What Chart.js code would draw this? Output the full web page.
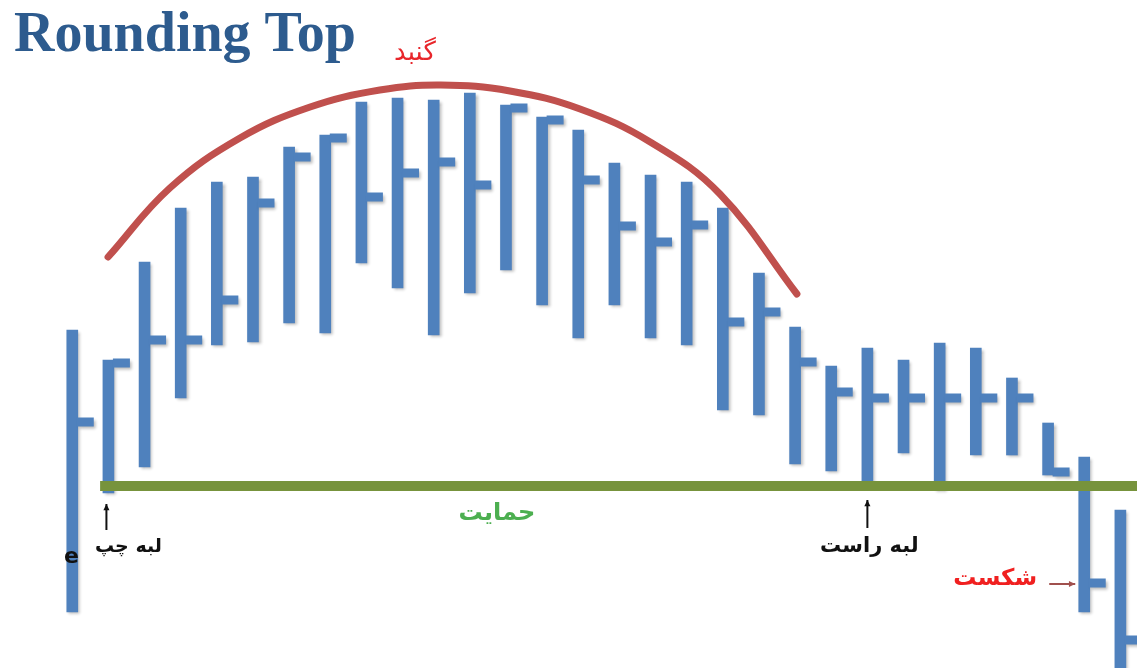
<!DOCTYPE html>
<html>
<head>
<meta charset="utf-8">
<title>Rounding Top</title>
<script src="https://cdn.jsdelivr.net/npm/chart.js@4.4.1/dist/chart.umd.min.js"></script>
<style>
  body { margin: 0; background: #ffffff; overflow: hidden; }
  canvas { display: block; }
</style>
</head>
<body>
<canvas id="roundingTop" width="1137" height="668"></canvas>
<script>
// Price bars (high / low / close), one per session
const highs  = [33.8, 30.8, 40.6, 46.0, 48.6, 49.1, 52.1, 53.3, 56.6, 57.0, 56.8, 57.5, 56.3, 55.1, 53.8,
                50.5, 49.3, 48.6, 46.0, 39.5, 34.1, 30.2, 32.0, 30.8, 32.5, 32.0, 29.0, 24.5, 21.1, 15.8];
const lows   = [ 5.6, 17.5, 20.1, 27.0, 32.3, 32.6, 34.5, 33.5, 40.5, 38.0, 33.3, 37.5, 39.8, 36.3, 33.0,
                36.3, 33.0, 32.3, 25.8, 25.3, 20.4, 19.7, 18.6, 21.5, 17.8, 21.3, 21.3, 19.3,  5.6, -1.2];
const closes = [24.6, 30.5, 32.8, 32.8, 36.8, 46.5, 51.1, 53.0, 47.1, 49.5, 50.6, 48.3, 56.0, 54.8, 48.8,
                44.2, 42.6, 44.3, 34.6, 35.6, 30.6, 27.6, 27.0, 27.0, 27.0, 27.0, 27.0, 19.6,  8.5,  2.8];

// Dome (rounded top) drawn over the bars
const domeX = [0.99, 2.70, 4.64, 6.58, 8.51, 10.20, 12.11, 14.05, 15.99, 17.92, 20.05];
const domeY = [41.1, 48.0, 53.0, 56.1, 57.8, 58.3, 57.7, 55.9, 52.6, 47.4, 37.4];

// Support (neckline) level and span
const supportLevel = 18.2;
const supportFrom = 0.77;
const supportTo = 29.5;

// Labels
const titleText = 'Rounding Top';
const domeLabel = 'گنبد';
const supportLabel = 'حمایت';
const leftEdgeLabel = 'لبه چپ';
const rightEdgeLabel = 'لبه راست';
const breakLabel = 'شکست';
const leftEdgeBar = 1;
const rightEdgeBar = 22;
const breakBar = 28;

const barColor = '#4f81bd';

// Build chart data from the arrays
const barData = highs.map((h, i) => ({ x: i, y: [lows[i], h] }));
const domeData = domeX.map((x, i) => ({ x: x, y: domeY[i] }));
const supportData = [{ x: supportFrom, y: supportLevel }, { x: supportTo, y: supportLevel }];

// Plugin: draws the close tick on the right of each bar, with a soft shadow
const closeTicks = {
  id: 'closeTicks',
  beforeDatasetDraw(chart, args) {
    if (args.meta.type !== 'bar') return;
    const ctx = chart.ctx;
    ctx.save();
    ctx.shadowColor = 'rgba(0,0,0,0.28)';
    ctx.shadowBlur = 3;
    ctx.shadowOffsetX = 2;
    ctx.shadowOffsetY = 2;
  },
  afterDatasetDraw(chart, args) {
    if (args.meta.type !== 'bar') return;
    const ctx = chart.ctx;
    const yScale = chart.scales.y;
    ctx.fillStyle = barColor;
    args.meta.data.forEach((bar, i) => {
      const y = yScale.getPixelForValue(closes[i]);
      ctx.fillRect(bar.x + bar.width / 2 - 1, y - 4.5, 17, 9);
    });
    ctx.restore();
  }
};

// Helper to draw a small arrow
function drawArrow(ctx, x1, y1, x2, y2, color) {
  const a = Math.atan2(y2 - y1, x2 - x1);
  ctx.strokeStyle = color;
  ctx.fillStyle = color;
  ctx.lineWidth = 2;
  ctx.beginPath();
  ctx.moveTo(x1, y1);
  ctx.lineTo(x2, y2);
  ctx.stroke();
  ctx.beginPath();
  ctx.moveTo(x2, y2);
  ctx.lineTo(x2 - 7 * Math.cos(a - 0.45), y2 - 7 * Math.sin(a - 0.45));
  ctx.lineTo(x2 - 7 * Math.cos(a + 0.45), y2 - 7 * Math.sin(a + 0.45));
  ctx.closePath();
  ctx.fill();
}

// Plugin: title and Persian annotations
const annotations = {
  id: 'annotations',
  afterDraw(chart) {
    const ctx = chart.ctx;
    const xs = chart.scales.x;
    const ys = chart.scales.y;
    const sy = ys.getPixelForValue(supportLevel);
    ctx.save();

    ctx.fillStyle = '#2d5b8e';
    ctx.font = 'bold 56px "Liberation Serif", serif';
    ctx.textAlign = 'left';
    ctx.textBaseline = 'alphabetic';
    ctx.fillText(titleText, 14, 51);

    ctx.textAlign = 'center';
    ctx.textBaseline = 'middle';

    // dome
    ctx.fillStyle = '#e8262b';
    ctx.font = '26px "DejaVu Sans", sans-serif';
    ctx.fillText(domeLabel, xs.getPixelForValue(9.48), ys.getPixelForValue(Math.max(...domeY)) - 32);

    // support
    ctx.fillStyle = '#4caf50';
    ctx.font = 'bold 24px "DejaVu Sans", sans-serif';
    ctx.fillText(supportLabel, xs.getPixelForValue(11.75), sy + 28);

    // left edge
    const lx = xs.getPixelForValue(leftEdgeBar) - 2;
    drawArrow(ctx, lx, sy + 44, lx, sy + 18, '#111111');
    ctx.fillStyle = '#111111';
    ctx.font = 'bold 19px "DejaVu Sans", sans-serif';
    ctx.fillText(leftEdgeLabel, lx + 22, sy + 61);

    // right edge
    const rx = xs.getPixelForValue(rightEdgeBar);
    drawArrow(ctx, rx, sy + 42, rx, sy + 14, '#111111');
    ctx.font = 'bold 21px "DejaVu Sans", sans-serif';
    ctx.fillText(rightEdgeLabel, rx + 2, sy + 61);

    // stray "e" at the left
    ctx.textAlign = 'left';
    ctx.font = 'bold 22px "DejaVu Sans", sans-serif';
    ctx.fillText('e', 64, sy + 71);

    // break
    const bx = xs.getPixelForValue(breakBar) - 9;
    const by = ys.getPixelForValue(closes[breakBar]);
    drawArrow(ctx, bx - 26, by + 1, bx, by + 1, '#a0504d');
    ctx.textAlign = 'center';
    ctx.fillStyle = '#f02020';
    ctx.font = 'bold 23px "DejaVu Sans", sans-serif';
    ctx.fillText(breakLabel, bx - 80, by - 4);

    ctx.restore();
  }
};

const chart = new Chart(document.getElementById('roundingTop'), {
  type: 'bar',
  data: {
    datasets: [
      {
        type: 'line',
        label: 'support',
        data: supportData,
        borderColor: '#77933c',
        borderWidth: 10,
        pointRadius: 0,
        order: 0
      },
      {
        type: 'line',
        label: 'dome',
        data: domeData,
        borderColor: '#c0504d',
        borderWidth: 7,
        borderCapStyle: 'round',
        pointRadius: 0,
        tension: 0.4,
        order: 1
      },
      {
        type: 'bar',
        label: 'price',
        data: barData,
        backgroundColor: barColor,
        barThickness: 11,
        order: 2
      }
    ]
  },
  options: {
    responsive: false,
    animation: false,
    layout: { padding: 0 },
    scales: {
      x: { type: 'linear', min: -2, max: 29.46, offset: false, display: false },
      y: { min: 0, max: 66.8, display: false }
    },
    plugins: {
      legend: { display: false },
      tooltip: { enabled: false }
    }
  },
  plugins: [closeTicks, annotations]
});
</script>
</body>
</html>
